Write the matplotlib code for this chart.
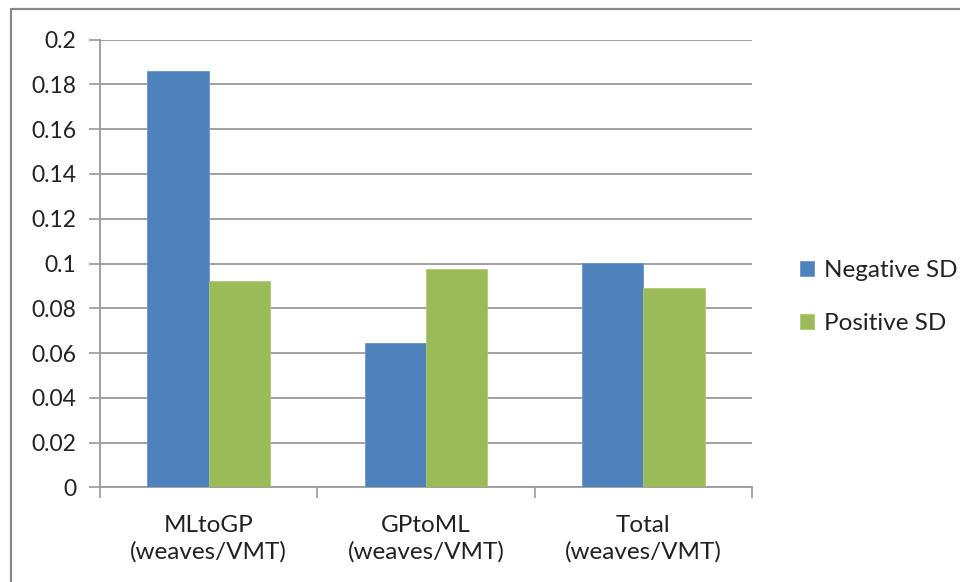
import matplotlib
matplotlib.use('Agg')
import matplotlib.pyplot as plt
import numpy as np
from matplotlib.patches import Rectangle

categories = ['MLtoGP\n(weaves/VMT)', 'GPtoML\n(weaves/VMT)', 'Total\n(weaves/VMT)']
negative_sd = [0.186, 0.0645, 0.1003]
positive_sd = [0.0921, 0.0977, 0.0892]
y_ticks = [0, 0.02, 0.04, 0.06, 0.08, 0.1, 0.12, 0.14, 0.16, 0.18, 0.2]
y_tick_labels = ['0', '0.02', '0.04', '0.06', '0.08', '0.1', '0.12', '0.14',
                 '0.16', '0.18', '0.2']

plt.rcParams['font.family'] = ['Lato', 'DejaVu Sans']

fig = plt.figure(figsize=(9.6, 5.82), dpi=100)
ax = fig.add_axes([0.1042, 0.1624, 0.6791, 0.7696])

# outer chart frame (runs off the right and bottom edges)
fig.patches.append(Rectangle((11 / 960, -0.2), 1.2, 1.2 - 9 / 582,
                             transform=fig.transFigure, fill=False,
                             edgecolor='#8a8a8a', linewidth=1.6))

x = np.arange(len(categories))
w = 0.283
ax.bar(x - w / 2, negative_sd, w, color='#4F81BD', edgecolor='#6b95c8',
       linewidth=0.6, label='Negative SD', zorder=3)
ax.bar(x + w / 2, positive_sd, w, color='#9BBB59', edgecolor='#adc873',
       linewidth=0.6, label='Positive SD', zorder=3)

ax.set_xlim(-0.5, 2.5)
ax.set_ylim(0, 0.2)
ax.set_yticks(y_ticks)
ax.set_yticklabels(y_tick_labels)
ax.yaxis.grid(True, color='#9a9a9a', linewidth=1.3, zorder=0)
ax.set_axisbelow(True)

ax.set_xticks(x)
ax.set_xticklabels(categories, linespacing=1.3)
ax.set_xticks([-0.5, 0.5, 1.5, 2.5], minor=True)
ax.tick_params(axis='x', which='major', length=0, pad=20, labelsize=17.5,
               colors='#222222')
ax.tick_params(axis='x', which='minor', length=8, width=1.2, color='#9a9a9a')
ax.tick_params(axis='y', length=8, width=1.2, color='#9a9a9a', pad=9,
               labelsize=16.5, labelcolor='#222222')

for side in ['top', 'right']:
    ax.spines[side].set_visible(False)
for side in ['left', 'bottom']:
    ax.spines[side].set_color('#9a9a9a')
    ax.spines[side].set_linewidth(1.3)

fig.legend(loc='center left', bbox_to_anchor=(790 / 960, 1 - 297 / 582),
           frameon=False, fontsize=17.5, handlelength=0.6, handleheight=0.6,
           handletextpad=0.4, labelspacing=1.3, borderaxespad=0,
           labelcolor='#222222')
plt.savefig('out.png', dpi=100)
